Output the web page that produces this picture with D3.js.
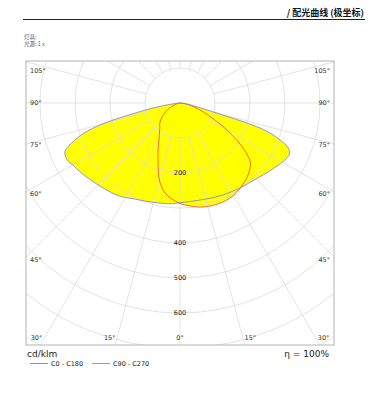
<!DOCTYPE html>
<html>
<head>
<meta charset="utf-8">
<script src="https://cdn.jsdelivr.net/npm/d3@7"></script>
<style>
  body { margin: 0; background: #fff; }
  svg text { font-family: "DejaVu Sans", Verdana, sans-serif; }
</style>
</head>
<body>
<div id="chart"></div>
<script>
// gamma angles (deg from nadir) and intensities in cd/klm
var gammas   = [0, 5, 10, 15, 20, 25, 30, 35, 40, 45, 50, 55, 60, 62.5, 65, 67.5, 70, 72.5, 75, 77.5, 80, 82.5, 85, 87.5, 90];
var c0       = [287, 295, 302, 306, 308, 308, 305, 298, 290, 279, 262, 215, 155, 127, 100, 80, 65, 52, 40, 30, 22, 14, 8, 3, 0];
var c180     = [287, 275, 258, 228, 183, 148, 120, 102, 90, 82, 70, 58, 45, 37, 30, 24, 18, 14, 10, 7, 5, 3, 2, 1, 0];
var c90      = [285, 283, 283, 284, 287, 290, 293, 297, 301, 307, 316, 326, 338, 343, 345, 335, 300, 245, 95, 50, 30, 15, 8, 3, 0];
var c270     = [285, 289, 291, 294, 298, 303, 312, 320, 325, 331, 338, 346, 354, 360, 361, 355, 326, 290, 225, 125, 70, 25, 10, 3, 0];

var radialTicks = [100, 200, 300, 400, 500, 600, 700, 800, 900];
var radialLabels = [200, 400, 500, 600];
var angleLabels = [0, 15, 30, 45, 60, 75, 90, 105];

var W = 375, H = 404;
var frame = {left: 26, top: 61, right: 334, bottom: 345};
var cx = 180, cy = 103;

var r = d3.scaleLinear().domain([0, 100]).range([0, 35]);

var svg = d3.select("#chart").append("svg")
    .attr("width", W).attr("height", H);

// header
svg.append("text")
    .attr("x", 364).attr("y", 16)
    .attr("text-anchor", "end")
    .style("font-family", "'Noto Sans CJK SC', sans-serif")
    .style("font-size", "9px").style("font-weight", "bold")
    .attr("fill", "#111")
    .text("/ 配光曲线 (极坐标)");
svg.append("line")
    .attr("x1", 23).attr("x2", 365).attr("y1", 19.5).attr("y2", 19.5)
    .attr("stroke", "#222").attr("stroke-width", 1.2);
svg.append("text").attr("x", 24).attr("y", 39)
    .style("font-family", "'Noto Sans CJK SC', sans-serif")
    .style("font-size", "5.5px").attr("fill", "#555").text("灯具:");
svg.append("text").attr("x", 24).attr("y", 46)
    .style("font-family", "'Noto Sans CJK SC', sans-serif")
    .style("font-size", "5.5px").attr("fill", "#555").text("光源: 1 x");

svg.append("clipPath").attr("id", "clip")
  .append("rect")
    .attr("x", frame.left).attr("y", frame.top)
    .attr("width", frame.right - frame.left).attr("height", frame.bottom - frame.top);

var plot = svg.append("g").attr("clip-path", "url(#clip)");
var g = plot.append("g").attr("transform", "translate(" + cx + "," + cy + ")");

// closed outline: one side going out, the other coming back
function outline(right, left) {
  var pts = [];
  gammas.forEach(function(gm, i) { pts.push([Math.PI - gm * Math.PI / 180, r(right[i])]); });
  for (var i = gammas.length - 2; i > 0; i--) {
    pts.push([Math.PI + gammas[i] * Math.PI / 180, r(left[i])]);
  }
  return pts;
}

var radial = d3.lineRadial()
    .angle(function(d) { return d[0]; })
    .radius(function(d) { return d[1]; })
    .curve(d3.curveCatmullRomClosed.alpha(0.5));

var curves = [
  {id: "C0 - C180", pts: outline(c0, c180), color: "#ee4a2a"},
  {id: "C90 - C270", pts: outline(c90, c270), color: "#7b7be0"}
];

// fills
g.selectAll(".fill").data(curves).enter().append("path")
    .attr("class", "fill")
    .attr("d", function(d) { return radial(d.pts); })
    .attr("fill", "#ffff00").attr("stroke", "none");

// grid
g.selectAll(".ring").data(radialTicks).enter().append("circle")
    .attr("class", "ring")
    .attr("r", function(d) { return r(d); })
    .attr("fill", "none").attr("stroke", "#dcdcdc").attr("stroke-width", 0.8);

g.selectAll(".spoke").data(d3.range(0, 360, 15)).enter().append("line")
    .attr("class", "spoke")
    .attr("x1", function(a) { return r(100) * Math.sin(a * Math.PI / 180); })
    .attr("y1", function(a) { return r(100) * Math.cos(a * Math.PI / 180); })
    .attr("x2", function(a) { return r(1000) * Math.sin(a * Math.PI / 180); })
    .attr("y2", function(a) { return r(1000) * Math.cos(a * Math.PI / 180); })
    .attr("stroke", "#dcdcdc").attr("stroke-width", 0.8);

// outlines
g.selectAll(".outline").data(curves).enter().append("path")
    .attr("class", "outline")
    .attr("d", function(d) { return radial(d.pts); })
    .attr("fill", "none").attr("stroke", function(d) { return d.color; })
    .attr("stroke-width", 0.8);

// intensity labels
g.selectAll(".rlabel").data(radialLabels).enter().append("text")
    .attr("class", "rlabel")
    .attr("x", 0).attr("y", function(d) { return r(d); })
    .attr("dy", "0.35em")
    .attr("text-anchor", "middle")
    .style("font-size", "6.5px").attr("fill", "#222")
    .text(function(d) { return d; });

// angle labels, placed where each ray meets the frame
var angleG = svg.append("g");
angleLabels.forEach(function(a) {
  [-1, 1].forEach(function(side) {
    if (a === 0 && side === 1) return;
    var s = Math.sin(a * Math.PI / 180), c = Math.cos(a * Math.PI / 180);
    var yb = frame.bottom - 5;
    var t = c > 0 ? (yb - cy) / c : Infinity;
    var xb = cx + side * s * t;
    var label = angleG.append("text")
        .style("font-size", "6.5px").attr("fill", "#333")
        .text(a + "°");
    if (xb > frame.left + 12 && xb < frame.right - 12) {
      label.attr("x", a === 0 ? xb : xb + side * 1)
          .attr("y", yb)
          .attr("text-anchor", a === 0 ? "middle" : (side < 0 ? "end" : "start"));
    } else {
      var xs = side < 0 ? frame.left + 4 : frame.right - 4;
      var ys = cy + c * Math.abs(xs + side * 7 - cx) / s;
      ys = Math.max(ys, frame.top + 10);
      label.attr("x", xs).attr("y", ys).attr("dy", "0.35em")
          .attr("text-anchor", side < 0 ? "start" : "end");
    }
  });
});

// frame
svg.append("rect")
    .attr("x", frame.left).attr("y", frame.top)
    .attr("width", frame.right - frame.left).attr("height", frame.bottom - frame.top)
    .attr("fill", "none").attr("stroke", "#b4b4b4").attr("stroke-width", 1);

// footer
svg.append("text").attr("x", 27).attr("y", 357)
    .style("font-size", "9px").attr("fill", "#222").text("cd/klm");
svg.append("text").attr("x", 329).attr("y", 357)
    .attr("text-anchor", "end")
    .style("font-size", "9px").attr("fill", "#222").text("η = 100%");

var legend = svg.selectAll(".legend").data(curves).enter().append("g")
    .attr("class", "legend")
    .attr("transform", function(d, i) { return "translate(" + (30 + i * 62) + ",364)"; });
legend.append("line")
    .attr("x1", 0).attr("x2", 18).attr("y1", -0.5).attr("y2", -0.5)
    .attr("stroke", function(d) { return d.color; }).attr("stroke-width", 0.8);
legend.append("text")
    .attr("x", 21).attr("y", 2)
    .style("font-size", "6.5px").attr("fill", "#222")
    .text(function(d) { return d.id; });
</script>
</body>
</html>
